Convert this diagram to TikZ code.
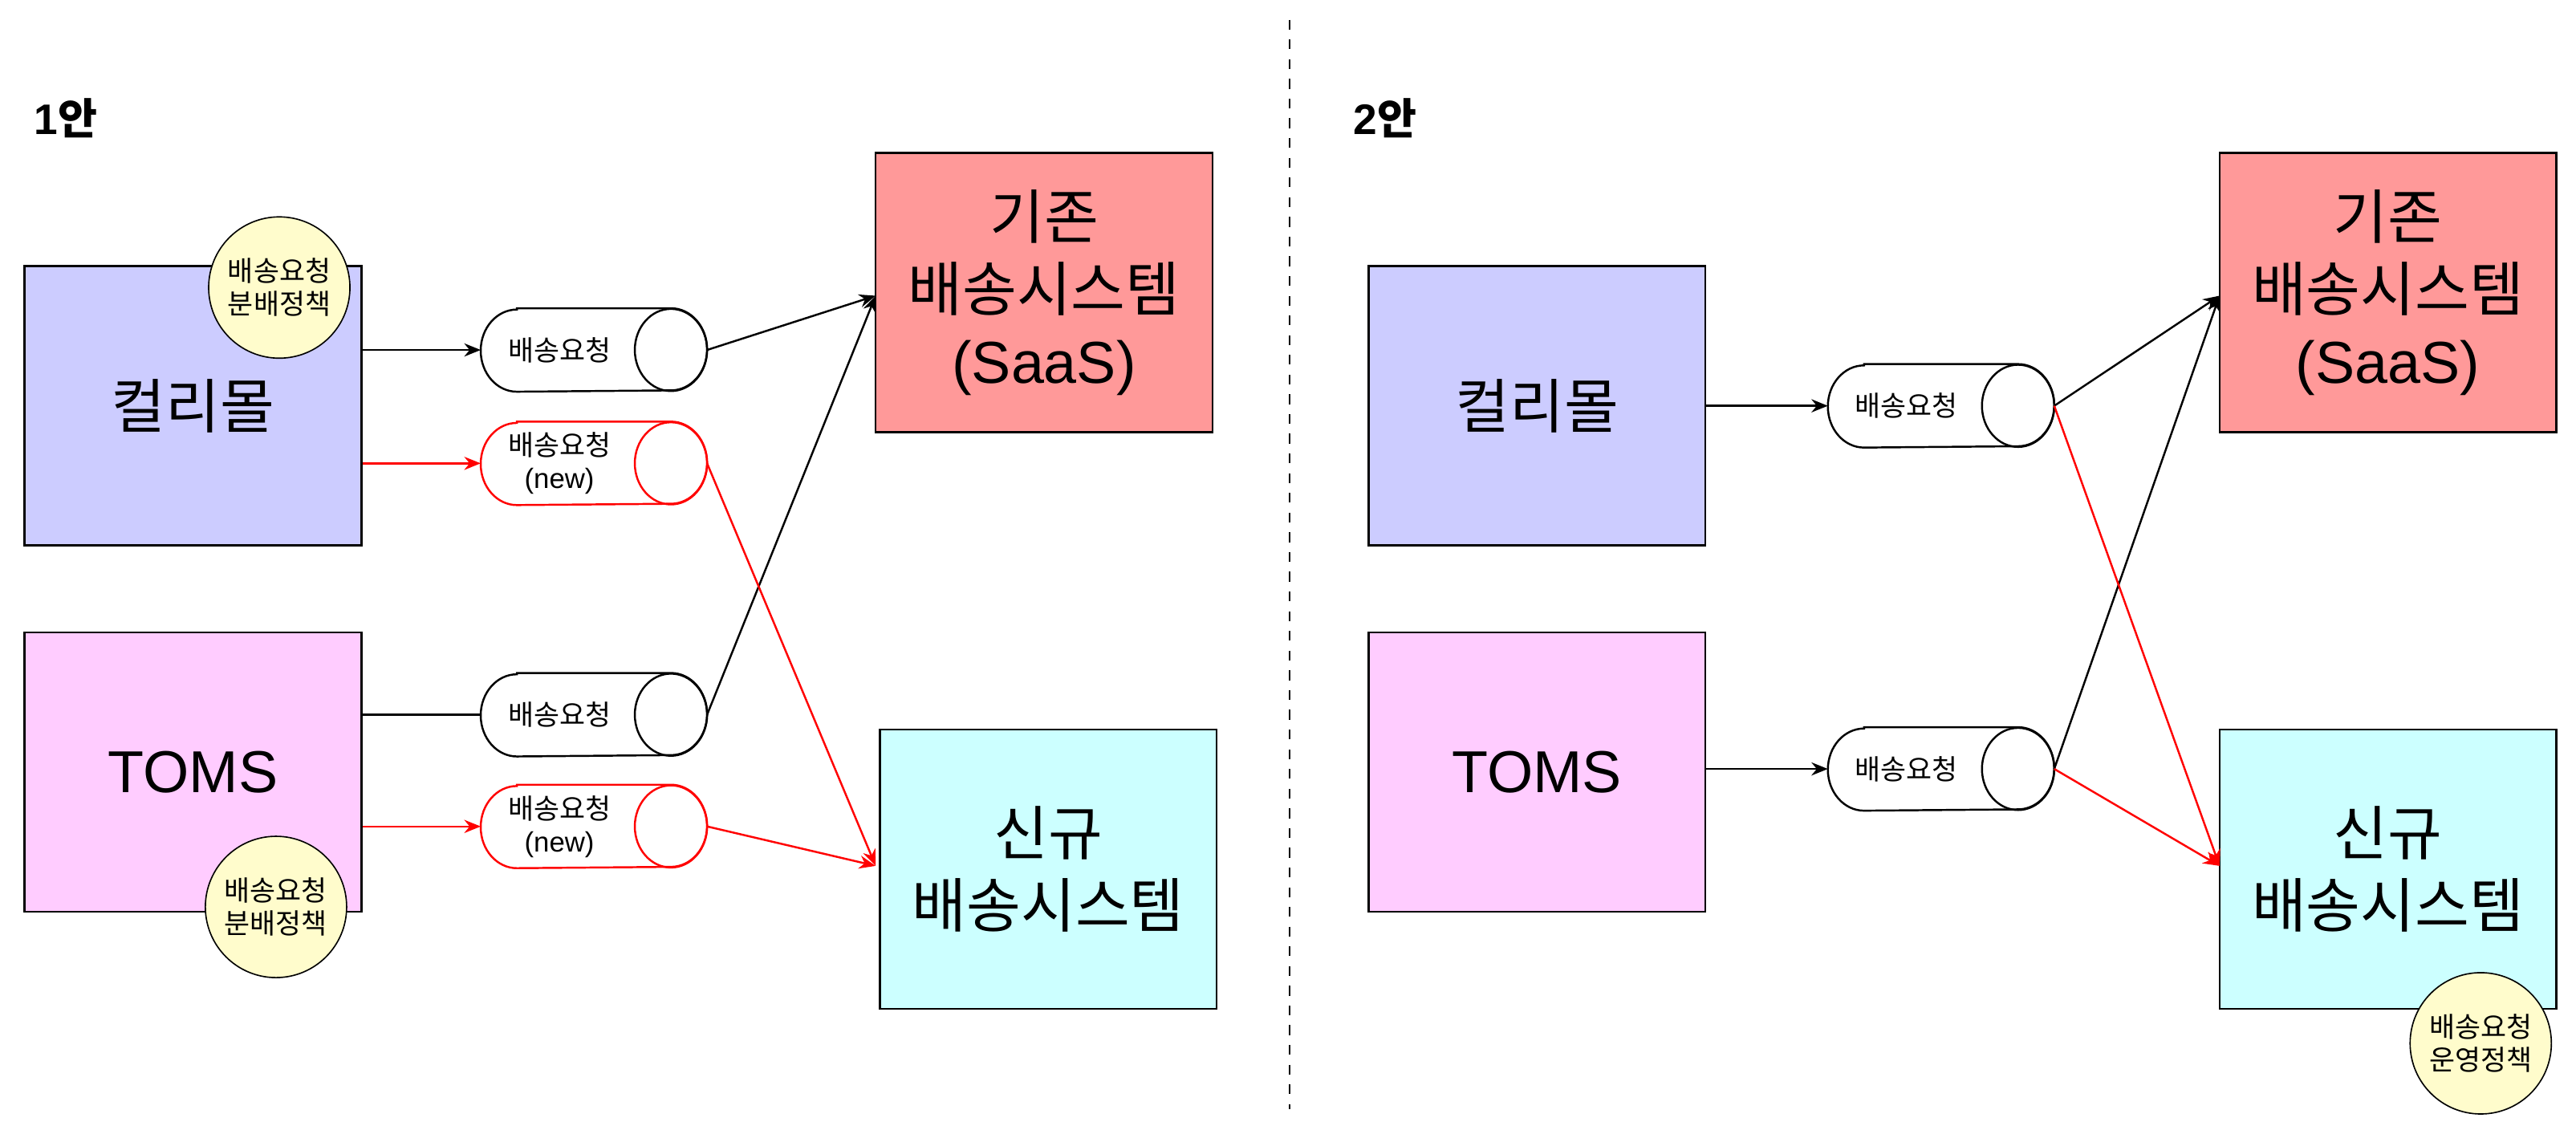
\documentclass[tikz,border=0pt]{standalone}
\usepackage{fontspec}
\setmainfont{Liberation Sans}
\newfontfamily\kr{Noto Sans CJK KR}
\usetikzlibrary{shapes.geometric,arrows.meta}
\newcommand{\cylout}[2]{%
 \draw[#2,fill=white,line width=0.6pt] ([xshift=11pt]#1.north west) -- ([xshift=-11pt]#1.north east) arc(90:-90:11pt and 12.5pt) -- ([xshift=11pt]#1.south west) arc(270:90:11pt and 12.5pt) -- cycle;
 \draw[#2,line width=0.6pt] ([xshift=-11pt]#1.east) ellipse (11pt and 12.5pt);}
\begin{document}
\begin{tikzpicture}[x=0.5pt,y=-0.5pt,
 box/.style={draw,line width=0.6pt,minimum width=102.5pt,minimum height=85pt,inner sep=0pt,align=center,font=\fontsize{18}{22}\selectfont},
 pol/.style={draw,circle,fill=yellow!20!white,minimum size=43pt,inner sep=0pt,align=center,font=\kr\fontsize{8.5}{10}\selectfont},
 cyl/.style={rectangle,minimum width=68.5pt,minimum height=25pt,inner sep=0pt,align=center,font=\fontsize{8.5}{10}\selectfont},
 ct/.style={inner sep=0pt,align=center,xshift=-10.5pt,font=\fontsize{8.5}{10}\selectfont},
 arr/.style={line width=0.6pt,-{Stealth[length=5pt,width=4pt]}},
 ln/.style={line width=0.6pt}]
\useasboundingbox (0,0) rectangle (1568,685);
\draw[dashed,line width=0.6pt] (785,12) coordinate (d1) -- (785,675) coordinate (d2);
\node[font=\bfseries\fontsize{13}{15}\selectfont] (t1) at (40,72) {1{\kr 안}};
\node[font=\bfseries\fontsize{13}{15}\selectfont] (t2) at (843,72) {2{\kr 안}};
% left
\node[box,fill={rgb,255:red,204;green,204;blue,255}] (k1) at (117.5,247) {\kr 컬리몰};
\node[box,fill={rgb,255:red,255;green,204;blue,255}] (m1) at (117.5,470) {TOMS};
\node[box,fill={rgb,255:red,255;green,153;blue,153}] (o1) at (635.5,178) {{\kr 기존}\\{\kr 배송시스템}\\(SaaS)};
\node[box,fill={rgb,255:red,204;green,255;blue,255}] (n1) at (638,529) {{\kr 신규}\\{\kr 배송시스템}};
\node[pol] (p1) at (170,175) {배송요청\\분배정책};
\node[pol] (p2) at (168,552) {배송요청\\분배정책};
\node[cyl] (c1) at (361.5,213) {};
\node[cyl] (c2) at (361.5,282) {};
\node[cyl] (c3) at (361.5,435) {};
\node[cyl] (c4) at (361.5,503) {};
\cylout{c1}{black}\cylout{c2}{red}\cylout{c3}{black}\cylout{c4}{red}
\node[ct] (l1) at (c1) {\kr 배송요청};
\node[ct] (l2) at (c2) {{\kr 배송요청}\\(new)};
\node[ct] (l3) at (c3) {\kr 배송요청};
\node[ct] (l4) at (c4) {{\kr 배송요청}\\(new)};
\draw[arr] (k1.east|-c1.west) -- (c1.west);
\draw[arr,red] (k1.east|-c2.west) -- (c2.west);
\draw[ln] (m1.east|-c3.west) -- (c3.west);
\draw[arr,red] (m1.east|-c4.west) -- (c4.west);
\coordinate (oa) at (533,180);
\coordinate (na) at (533,527);
\draw[arr] (c1.east) -- (oa);
\draw[arr] (c3.east) -- (oa);
\draw[arr,red] (c2.east) -- (na);
\draw[arr,red] (c4.east) -- (na);
% right
\node[box,fill={rgb,255:red,204;green,204;blue,255}] (k2) at (935.5,247) {\kr 컬리몰};
\node[box,fill={rgb,255:red,255;green,204;blue,255}] (m2) at (935.5,470) {TOMS};
\node[box,fill={rgb,255:red,255;green,153;blue,153}] (o2) at (1453.5,178) {{\kr 기존}\\{\kr 배송시스템}\\(SaaS)};
\node[box,fill={rgb,255:red,204;green,255;blue,255}] (n2) at (1453.5,529) {{\kr 신규}\\{\kr 배송시스템}};
\node[pol] (p3) at (1510,635) {배송요청\\운영정책};
\node[cyl] (c5) at (1181.5,247) {};
\node[cyl] (c6) at (1181.5,468) {};
\cylout{c5}{black}\cylout{c6}{black}
\node[ct] (l5) at (c5) {\kr 배송요청};
\node[ct] (l6) at (c6) {\kr 배송요청};
\draw[arr] (k2.east|-c5.west) -- (c5.west);
\draw[arr] (m2.east|-c6.west) -- (c6.west);
\coordinate (ob) at (1351,180);
\coordinate (nb) at (1351,527);
\draw[arr] (c5.east) -- (ob);
\draw[arr] (c6.east) -- (ob);
\draw[arr,red] (c5.east) -- (nb);
\draw[arr,red] (c6.east) -- (nb);
\end{tikzpicture}
\end{document}
